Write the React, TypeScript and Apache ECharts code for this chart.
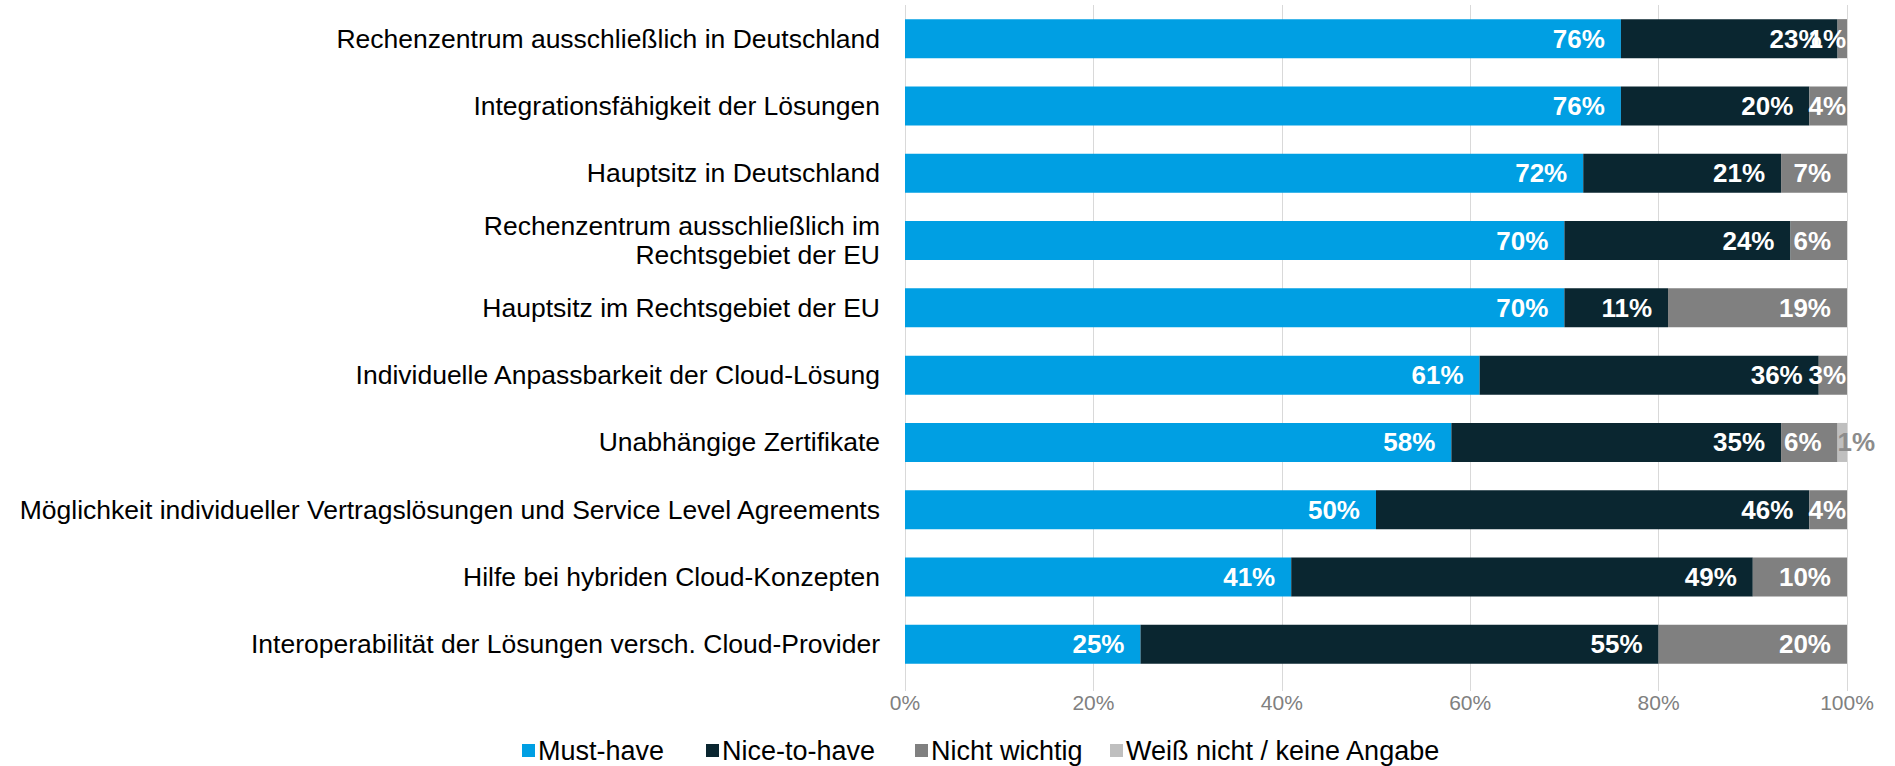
import React, { useEffect, useRef } from "react";
import * as echarts from "echarts";

const categories = [
  "Rechenzentrum ausschließlich in Deutschland",
  "Integrationsfähigkeit der Lösungen",
  "Hauptsitz in Deutschland",
  "Rechenzentrum ausschließlich im\nRechtsgebiet der EU",
  "Hauptsitz im Rechtsgebiet der EU",
  "Individuelle Anpassbarkeit der Cloud-Lösung",
  "Unabhängige Zertifikate",
  "Möglichkeit individueller Vertragslösungen und Service Level Agreements",
  "Hilfe bei hybriden Cloud-Konzepten",
  "Interoperabilität der Lösungen versch. Cloud-Provider",
];

const mustHave = [76, 76, 72, 70, 70, 61, 58, 50, 41, 25];
const niceToHave = [23, 20, 21, 24, 11, 36, 35, 46, 49, 55];
const nichtWichtig = [1, 4, 7, 6, 19, 3, 6, 4, 10, 20];
const weissNicht = [0, 0, 0, 0, 0, 0, 1, 0, 0, 0];

const xTicks = [0, 20, 40, 60, 80, 100];

const seriesNames = ["Must-have", "Nice-to-have", "Nicht wichtig", "Weiß nicht / keine Angabe"];
const colors = ["#009FE3", "#0A2630", "#808080", "#BFBFBF"];

const FONT = "'Liberation Sans', Arial, Helvetica, sans-serif";

export default function App() {
  const ref = useRef<HTMLDivElement>(null);

  useEffect(() => {
    if (!ref.current) return;
    const chart = echarts.init(ref.current, undefined, { renderer: "svg" });
    const cats = [...categories].reverse();
    const rev = (a: number[]) => [...a].reverse();

    const mkData = (arr: number[]) =>
      rev(arr).map((v) => ({
        value: v,
        label: v <= 4 ? { distance: 1 } : {},
      }));

    const barLabel = {
      show: true,
      position: "insideRight" as const,
      distance: 16,
      color: "#ffffff",
      fontFamily: FONT,
      fontWeight: "bold" as const,
      fontSize: 26,
      formatter: (p: any) => (p.value ? p.value + "%" : ""),
    };

    const series: any[] = [
      {
        name: seriesNames[0],
        type: "bar",
        stack: "t",
        barWidth: "58%",
        data: mkData(mustHave),
        itemStyle: { color: colors[0] },
        label: barLabel,
      },
      {
        name: seriesNames[1],
        type: "bar",
        stack: "t",
        data: mkData(niceToHave),
        itemStyle: { color: colors[1] },
        label: barLabel,
      },
      {
        name: seriesNames[2],
        type: "bar",
        stack: "t",
        data: mkData(nichtWichtig),
        itemStyle: { color: colors[2] },
        label: barLabel,
      },
      {
        name: seriesNames[3],
        type: "bar",
        stack: "t",
        data: rev(weissNicht),
        itemStyle: { color: colors[3] },
        label: {
          ...barLabel,
          position: "insideLeft",
          distance: 0,
          color: "#8C8C8C",
        },
      },
    ];

    const legendLefts = [522, 706, 915, 1110];

    chart.setOption({
      animation: false,
      textStyle: { fontFamily: FONT },
      grid: { left: 905, right: 48, top: 5, height: 673, containLabel: false },
      legend: seriesNames.map((n, i) => ({
        data: [n],
        left: legendLefts[i],
        top: 737,
        icon: "rect",
        itemWidth: 13,
        itemHeight: 13,
        selectedMode: false,
        padding: 0,
        textStyle: { fontFamily: FONT, fontSize: 27, color: "#000000", padding: [0, 0, 0, -2] },
      })),
      xAxis: {
        type: "value",
        min: 0,
        max: 100,
        interval: 20,
        axisLine: { show: false },
        axisTick: { show: true, length: 13, lineStyle: { color: "#D9D9D9" } },
        splitLine: { show: true, lineStyle: { color: "#D9D9D9", width: 1 } },
        axisLabel: {
          margin: 14,
          fontFamily: FONT,
          fontSize: 21,
          color: "#808080",
          formatter: (v: number) => (xTicks.includes(v) ? v + "%" : ""),
        },
      },
      yAxis: {
        type: "category",
        data: cats,
        axisLine: { show: false },
        axisTick: { show: false },
        axisLabel: {
          margin: 25,
          fontFamily: FONT,
          fontSize: 26.5,
          lineHeight: 29,
          color: "#000000",
          align: "right",
        },
      },
      series,
    });
    return () => chart.dispose();
  }, []);

  return (
    <div
      ref={ref}
      style={{ position: "fixed", left: 0, top: 0, width: 1895, height: 766, background: "#ffffff" }}
    />
  );
}
